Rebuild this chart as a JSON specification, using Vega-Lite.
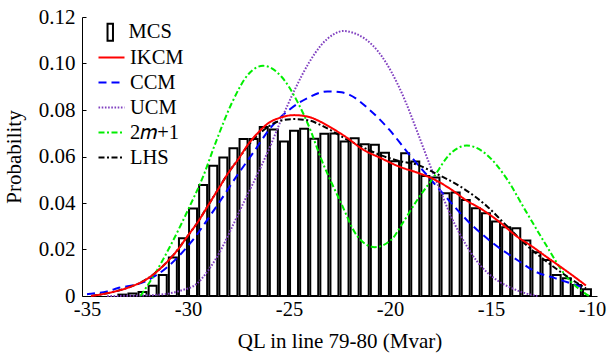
{
  "$schema": "https://vega.github.io/schema/vega-lite/v6.json",
  "width": 515,
  "height": 279,
  "autosize": "none",
  "padding": {"left": 82, "top": 17, "right": 17, "bottom": 62},
  "background": "white",
  "config": {
    "view": {"stroke": null},
    "font": "Liberation Serif",
    "axis": {
      "grid": false,
      "domainColor": "black",
      "domainWidth": 1,
      "tickColor": "black",
      "labelColor": "black",
      "titleColor": "black",
      "labelFont": "Liberation Serif",
      "titleFont": "Liberation Serif",
      "titleFontSize": 21,
      "titleFontWeight": "normal"
    },
    "legend": {
      "labelFont": "Liberation Serif",
      "labelFontSize": 20.5,
      "labelColor": "black",
      "padding": 0
    }
  },
  "datasets": {
    "bars": [
      {"c": -33.25, "p": 0.0006, "kind": "MCS"},
      {"c": -32.75, "p": 0.0011, "kind": "MCS"},
      {"c": -32.25, "p": 0.0017, "kind": "MCS"},
      {"c": -31.75, "p": 0.0044, "kind": "MCS"},
      {"c": -31.25, "p": 0.009, "kind": "MCS"},
      {"c": -30.75, "p": 0.0166, "kind": "MCS"},
      {"c": -30.25, "p": 0.0248, "kind": "MCS"},
      {"c": -29.75, "p": 0.0376, "kind": "MCS"},
      {"c": -29.25, "p": 0.0477, "kind": "MCS"},
      {"c": -28.75, "p": 0.056, "kind": "MCS"},
      {"c": -28.25, "p": 0.0596, "kind": "MCS"},
      {"c": -27.75, "p": 0.0635, "kind": "MCS"},
      {"c": -27.25, "p": 0.0675, "kind": "MCS"},
      {"c": -26.75, "p": 0.0675, "kind": "MCS"},
      {"c": -26.25, "p": 0.0727, "kind": "MCS"},
      {"c": -25.75, "p": 0.0716, "kind": "MCS"},
      {"c": -25.25, "p": 0.0664, "kind": "MCS"},
      {"c": -24.75, "p": 0.0711, "kind": "MCS"},
      {"c": -24.25, "p": 0.0719, "kind": "MCS"},
      {"c": -23.75, "p": 0.0676, "kind": "MCS"},
      {"c": -23.25, "p": 0.0698, "kind": "MCS"},
      {"c": -22.75, "p": 0.0699, "kind": "MCS"},
      {"c": -22.25, "p": 0.0664, "kind": "MCS"},
      {"c": -21.75, "p": 0.0678, "kind": "MCS"},
      {"c": -21.25, "p": 0.0653, "kind": "MCS"},
      {"c": -20.75, "p": 0.0651, "kind": "MCS"},
      {"c": -20.25, "p": 0.0616, "kind": "MCS"},
      {"c": -19.75, "p": 0.058, "kind": "MCS"},
      {"c": -19.25, "p": 0.0614, "kind": "MCS"},
      {"c": -18.75, "p": 0.0578, "kind": "MCS"},
      {"c": -18.25, "p": 0.0516, "kind": "MCS"},
      {"c": -17.75, "p": 0.051, "kind": "MCS"},
      {"c": -17.25, "p": 0.0442, "kind": "MCS"},
      {"c": -16.75, "p": 0.0445, "kind": "MCS"},
      {"c": -16.25, "p": 0.0413, "kind": "MCS"},
      {"c": -15.75, "p": 0.0377, "kind": "MCS"},
      {"c": -15.25, "p": 0.0356, "kind": "MCS"},
      {"c": -14.75, "p": 0.032, "kind": "MCS"},
      {"c": -14.25, "p": 0.0296, "kind": "MCS"},
      {"c": -13.75, "p": 0.0291, "kind": "MCS"},
      {"c": -13.25, "p": 0.0239, "kind": "MCS"},
      {"c": -12.75, "p": 0.0188, "kind": "MCS"},
      {"c": -12.25, "p": 0.0155, "kind": "MCS"},
      {"c": -11.75, "p": 0.009, "kind": "MCS"},
      {"c": -11.25, "p": 0.0076, "kind": "MCS"},
      {"c": -10.75, "p": 0.0047, "kind": "MCS"},
      {"c": -10.25, "p": 0.0029, "kind": "MCS"}
    ],
    "curves": [
      {"s": "CCM", "x": -35, "p": 0.0008},
      {"s": "CCM", "x": -34.8, "p": 0.001},
      {"s": "CCM", "x": -34, "p": 0.002},
      {"s": "CCM", "x": -33.5, "p": 0.0033},
      {"s": "CCM", "x": -32.2, "p": 0.006},
      {"s": "CCM", "x": -31, "p": 0.0126},
      {"s": "CCM", "x": -29.9, "p": 0.0226},
      {"s": "CCM", "x": -28.6, "p": 0.0384},
      {"s": "CCM", "x": -27.5, "p": 0.0527},
      {"s": "CCM", "x": -26.7, "p": 0.0625},
      {"s": "CCM", "x": -26, "p": 0.0714},
      {"s": "CCM", "x": -25, "p": 0.08},
      {"s": "CCM", "x": -24, "p": 0.0855},
      {"s": "CCM", "x": -23.1, "p": 0.088},
      {"s": "CCM", "x": -22.4, "p": 0.0876},
      {"s": "CCM", "x": -22, "p": 0.0865},
      {"s": "CCM", "x": -21, "p": 0.08},
      {"s": "CCM", "x": -20, "p": 0.0712},
      {"s": "CCM", "x": -19.1, "p": 0.0614},
      {"s": "CCM", "x": -18.1, "p": 0.0513},
      {"s": "CCM", "x": -17.1, "p": 0.0413},
      {"s": "CCM", "x": -16.2, "p": 0.0327},
      {"s": "CCM", "x": -14.9, "p": 0.0227},
      {"s": "CCM", "x": -13.7, "p": 0.0155},
      {"s": "CCM", "x": -12.8, "p": 0.0105},
      {"s": "CCM", "x": -11.8, "p": 0.0076},
      {"s": "CCM", "x": -10.8, "p": 0.0047},
      {"s": "CCM", "x": -10.3, "p": 0.0033},
      {"s": "UCM", "x": -34, "p": 0},
      {"s": "UCM", "x": -32, "p": 0.0003},
      {"s": "UCM", "x": -31, "p": 0.001},
      {"s": "UCM", "x": -30.3, "p": 0.0025},
      {"s": "UCM", "x": -29.6, "p": 0.005},
      {"s": "UCM", "x": -29, "p": 0.011},
      {"s": "UCM", "x": -28.3, "p": 0.021},
      {"s": "UCM", "x": -27.8, "p": 0.03},
      {"s": "UCM", "x": -27.2, "p": 0.041},
      {"s": "UCM", "x": -26.5, "p": 0.0535},
      {"s": "UCM", "x": -26, "p": 0.063},
      {"s": "UCM", "x": -25.4, "p": 0.0755},
      {"s": "UCM", "x": -24.7, "p": 0.089},
      {"s": "UCM", "x": -24, "p": 0.1005},
      {"s": "UCM", "x": -23.4, "p": 0.108},
      {"s": "UCM", "x": -22.8, "p": 0.1125},
      {"s": "UCM", "x": -22.3, "p": 0.114},
      {"s": "UCM", "x": -21.7, "p": 0.1128},
      {"s": "UCM", "x": -21.3, "p": 0.111},
      {"s": "UCM", "x": -20.4, "p": 0.103},
      {"s": "UCM", "x": -19.4, "p": 0.087},
      {"s": "UCM", "x": -18.6, "p": 0.0695},
      {"s": "UCM", "x": -18.1, "p": 0.058},
      {"s": "UCM", "x": -17.5, "p": 0.045},
      {"s": "UCM", "x": -16.8, "p": 0.031},
      {"s": "UCM", "x": -16.2, "p": 0.0215},
      {"s": "UCM", "x": -15.7, "p": 0.015},
      {"s": "UCM", "x": -15.2, "p": 0.0102},
      {"s": "UCM", "x": -14.7, "p": 0.0068},
      {"s": "UCM", "x": -14, "p": 0.0035},
      {"s": "UCM", "x": -13.3, "p": 0.0012},
      {"s": "UCM", "x": -12.7, "p": 0},
      {"s": "2𝑚+1", "x": -32.35, "p": 0},
      {"s": "2𝑚+1", "x": -31.54, "p": 0.011},
      {"s": "2𝑚+1", "x": -30.73, "p": 0.024},
      {"s": "2𝑚+1", "x": -29.92, "p": 0.0385},
      {"s": "2𝑚+1", "x": -29.27, "p": 0.051},
      {"s": "2𝑚+1", "x": -28.63, "p": 0.066},
      {"s": "2𝑚+1", "x": -27.82, "p": 0.0832},
      {"s": "2𝑚+1", "x": -27, "p": 0.0955},
      {"s": "2𝑚+1", "x": -26.28, "p": 0.099},
      {"s": "2𝑚+1", "x": -25.39, "p": 0.0945},
      {"s": "2𝑚+1", "x": -24.58, "p": 0.0835},
      {"s": "2𝑚+1", "x": -23.9, "p": 0.0705},
      {"s": "2𝑚+1", "x": -23.5, "p": 0.061},
      {"s": "2𝑚+1", "x": -22.45, "p": 0.0405},
      {"s": "2𝑚+1", "x": -21.6, "p": 0.0255},
      {"s": "2𝑚+1", "x": -20.75, "p": 0.021},
      {"s": "2𝑚+1", "x": -19.9, "p": 0.0245},
      {"s": "2𝑚+1", "x": -19.4, "p": 0.031},
      {"s": "2𝑚+1", "x": -18.6, "p": 0.042},
      {"s": "2𝑚+1", "x": -17.86, "p": 0.0508},
      {"s": "2𝑚+1", "x": -17.04, "p": 0.061},
      {"s": "2𝑚+1", "x": -16.2, "p": 0.0647},
      {"s": "2𝑚+1", "x": -15.24, "p": 0.061},
      {"s": "2𝑚+1", "x": -14.25, "p": 0.0508},
      {"s": "2𝑚+1", "x": -13.27, "p": 0.0364},
      {"s": "2𝑚+1", "x": -12.28, "p": 0.022},
      {"s": "2𝑚+1", "x": -11.31, "p": 0.0088},
      {"s": "2𝑚+1", "x": -10.15, "p": 0},
      {"s": "LHS", "x": -34.8, "p": 0},
      {"s": "LHS", "x": -34, "p": 0.0012},
      {"s": "LHS", "x": -33, "p": 0.0035},
      {"s": "LHS", "x": -32, "p": 0.0075},
      {"s": "LHS", "x": -31, "p": 0.015},
      {"s": "LHS", "x": -30.5, "p": 0.02},
      {"s": "LHS", "x": -30, "p": 0.026},
      {"s": "LHS", "x": -29.5, "p": 0.032},
      {"s": "LHS", "x": -29, "p": 0.039},
      {"s": "LHS", "x": -28.5, "p": 0.046},
      {"s": "LHS", "x": -28, "p": 0.053},
      {"s": "LHS", "x": -27.5, "p": 0.059},
      {"s": "LHS", "x": -27, "p": 0.065},
      {"s": "LHS", "x": -26.5, "p": 0.0695},
      {"s": "LHS", "x": -26, "p": 0.073},
      {"s": "LHS", "x": -25.5, "p": 0.0752},
      {"s": "LHS", "x": -24.75, "p": 0.0761},
      {"s": "LHS", "x": -24, "p": 0.0755},
      {"s": "LHS", "x": -23.5, "p": 0.0738},
      {"s": "LHS", "x": -23, "p": 0.0716},
      {"s": "LHS", "x": -22.2, "p": 0.0676},
      {"s": "LHS", "x": -21.3, "p": 0.0638},
      {"s": "LHS", "x": -20.5, "p": 0.0607},
      {"s": "LHS", "x": -19.6, "p": 0.0582},
      {"s": "LHS", "x": -18.6, "p": 0.0563},
      {"s": "LHS", "x": -17.8, "p": 0.053},
      {"s": "LHS", "x": -16.5, "p": 0.047},
      {"s": "LHS", "x": -15.2, "p": 0.0386},
      {"s": "LHS", "x": -14.2, "p": 0.03},
      {"s": "LHS", "x": -13.2, "p": 0.0215},
      {"s": "LHS", "x": -12.2, "p": 0.0145},
      {"s": "LHS", "x": -11.3, "p": 0.0088},
      {"s": "LHS", "x": -10.3, "p": 0.0033},
      {"s": "IKCM", "x": -34.8, "p": 0},
      {"s": "IKCM", "x": -34, "p": 0.0012},
      {"s": "IKCM", "x": -33, "p": 0.0035},
      {"s": "IKCM", "x": -32, "p": 0.0075},
      {"s": "IKCM", "x": -31, "p": 0.015},
      {"s": "IKCM", "x": -30.5, "p": 0.02},
      {"s": "IKCM", "x": -30, "p": 0.026},
      {"s": "IKCM", "x": -29.5, "p": 0.032},
      {"s": "IKCM", "x": -29, "p": 0.039},
      {"s": "IKCM", "x": -28.5, "p": 0.046},
      {"s": "IKCM", "x": -28, "p": 0.053},
      {"s": "IKCM", "x": -27.5, "p": 0.059},
      {"s": "IKCM", "x": -27, "p": 0.0655},
      {"s": "IKCM", "x": -26.5, "p": 0.0705},
      {"s": "IKCM", "x": -26, "p": 0.0745},
      {"s": "IKCM", "x": -25.5, "p": 0.0765},
      {"s": "IKCM", "x": -24.75, "p": 0.0778},
      {"s": "IKCM", "x": -24, "p": 0.077},
      {"s": "IKCM", "x": -23.5, "p": 0.0752},
      {"s": "IKCM", "x": -23, "p": 0.0728},
      {"s": "IKCM", "x": -22.2, "p": 0.0685},
      {"s": "IKCM", "x": -21.3, "p": 0.0628},
      {"s": "IKCM", "x": -20.5, "p": 0.0595},
      {"s": "IKCM", "x": -19.5, "p": 0.0555},
      {"s": "IKCM", "x": -18.7, "p": 0.0532},
      {"s": "IKCM", "x": -17.9, "p": 0.0505},
      {"s": "IKCM", "x": -17, "p": 0.046},
      {"s": "IKCM", "x": -16.2, "p": 0.041},
      {"s": "IKCM", "x": -15.5, "p": 0.0375},
      {"s": "IKCM", "x": -14.6, "p": 0.032},
      {"s": "IKCM", "x": -13.7, "p": 0.0255},
      {"s": "IKCM", "x": -13, "p": 0.0215},
      {"s": "IKCM", "x": -12.2, "p": 0.0165},
      {"s": "IKCM", "x": -11.5, "p": 0.0122},
      {"s": "IKCM", "x": -10.8, "p": 0.0078},
      {"s": "IKCM", "x": -10.3, "p": 0.0045}
    ]
  },
  "layer": [
    {
      "data": {"name": "bars"},
      "mark": {"type": "bar", "width": 8, "stroke": "black", "strokeWidth": 2, "fillOpacity": 1},
      "encoding": {
        "x": {
          "field": "c",
          "type": "quantitative",
          "scale": {"domain": [-35, -10], "nice": false, "zero": false},
          "axis": {
            "values": [-35, -30, -25, -20, -15, -10],
            "labelExpr": "'' + datum.value",
            "labelFontSize": 20.5,
            "ticks": false,
            "labelPadding": 3,
            "title": "QL in line 79-80 (Mvar)",
            "titlePadding": 11
          }
        },
        "y": {
          "field": "p",
          "type": "quantitative",
          "scale": {"domain": [0, 0.12], "nice": false},
          "axis": {
            "values": [0, 0.02, 0.04, 0.06, 0.08, 0.1, 0.12],
            "labelExpr": "datum.value == 0 ? '0' : format(datum.value, '.2f')",
            "labelFontSize": 21,
            "tickSize": -4,
            "labelPadding": 11,
            "title": "Probability",
            "titlePadding": 14
          }
        },
        "fill": {
          "field": "kind",
          "type": "nominal",
          "scale": {"domain": ["MCS"], "range": ["white"]},
          "legend": {
            "title": null,
            "orient": "none",
            "legendX": 18,
            "legendY": 5,
            "symbolType": "M-0.32,-1L0.32,-1L0.32,1L-0.32,1Z",
            "symbolSize": 289,
            "symbolStrokeColor": "black",
            "symbolStrokeWidth": 2,
            "symbolFillColor": "white",
            "labelOffset": 8
          }
        }
      }
    },
    {
      "data": {"name": "curves"},
      "mark": {"type": "line", "interpolate": "monotone"},
      "encoding": {
        "x": {"field": "x", "type": "quantitative"},
        "y": {"field": "p", "type": "quantitative"},
        "stroke": {
          "field": "s",
          "type": "nominal",
          "scale": {
            "domain": ["IKCM", "CCM", "UCM", "2𝑚+1", "LHS"],
            "range": ["#ff0000", "#0000ff", "#8040c0", "#00ee00", "#000000"]
          },
          "legend": {
            "title": null,
            "orient": "none",
            "legendX": 15,
            "legendY": 26,
            "symbolType": "stroke",
            "symbolSize": 676,
            "symbolStrokeWidth": 2.2,
            "labelOffset": 4,
            "rowPadding": 0
          }
        },
        "strokeDash": {
          "field": "s",
          "type": "nominal",
          "scale": {
            "domain": ["IKCM", "CCM", "UCM", "2𝑚+1", "LHS"],
            "range": [[1, 0], [8, 5], [1.6, 1.6], [6, 2.5, 2, 2.5], [6, 2.5, 2, 2.5]]
          },
          "legend": {
            "title": null,
            "orient": "none",
            "legendX": 15,
            "legendY": 26,
            "symbolType": "stroke",
            "symbolSize": 676,
            "symbolStrokeWidth": 2.2,
            "labelOffset": 4,
            "rowPadding": 0
          }
        },
        "strokeWidth": {"value": 2}
      }
    }
  ]
}
